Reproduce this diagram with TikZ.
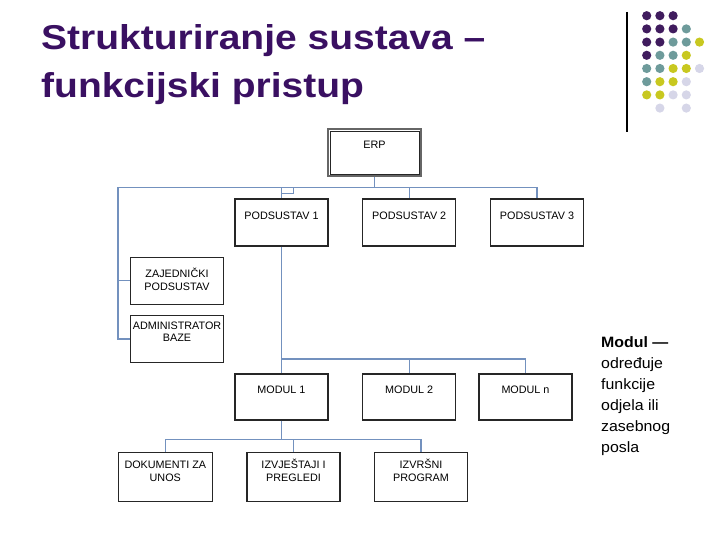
\documentclass[tikz,border=0pt]{standalone}
\usepackage{fontspec}
\setmainfont{Liberation Sans}
\newfontfamily\ttlfont[FakeStretch=1.13]{Liberation Sans}
\newfontfamily\bodyfont[FakeStretch=1.06]{Liberation Sans}
\newfontfamily\diafont{Liberation Sans}
\definecolor{ttlpurple}{RGB}{58,16,98}
\definecolor{dpurple}{RGB}{64,28,94}
\definecolor{dteal}{RGB}{110,155,155}
\definecolor{dyellow}{RGB}{200,200,32}
\definecolor{dlav}{RGB}{214,214,232}
\definecolor{connblue}{RGB}{115,145,190}
\begin{document}
\begin{tikzpicture}[x=1pt,y=-1pt,
  box/.style={draw=black!85, line width=1.1pt, minimum width=93pt, minimum height=47pt, inner sep=0pt},
  btxt/.style={font=\diafont\fontsize{10.8}{12.6}\selectfont, inner sep=0pt, align=center, anchor=base},
  conn/.style={draw=connblue, line width=1.3pt},
  ttl/.style={font=\ttlfont\bfseries\fontsize{34.5}{40}\selectfont, text=ttlpurple, inner sep=0pt, anchor=base west},
  bodytxt/.style={font=\bodyfont\fontsize{15}{21}\selectfont, inner sep=0pt, anchor=base west}
]
\useasboundingbox (0,0) rectangle (720,540);

% title
\node[ttl] (t1) at (41,50) {Strukturiranje sustava –};
\node[ttl] (t2) at (41,97.3) {funkcijski pristup};

% decoration
\draw[black, line width=1.2pt] (627,12) -- (627,132);
\foreach \c/\r/\col in {0/0/dpurple,1/0/dpurple,2/0/dpurple,
  0/1/dpurple,1/1/dpurple,2/1/dpurple,3/1/dteal,
  0/2/dpurple,1/2/dpurple,2/2/dteal,3/2/dteal,4/2/dyellow,
  0/3/dpurple,1/3/dteal,2/3/dteal,3/3/dyellow,
  0/4/dteal,1/4/dteal,2/4/dyellow,3/4/dyellow,4/4/dlav,
  0/5/dteal,1/5/dyellow,2/5/dyellow,3/5/dlav,
  0/6/dyellow,1/6/dyellow,2/6/dlav,3/6/dlav,
  1/7/dlav,3/7/dlav}
  \fill[\col] (646.7+13.2*\c, 15.7+13.2*\r) circle (4.6pt);

% ERP
\node[box, draw=black!60, line width=2pt] (erp) at (374.5,153) {};
\draw[black!85, line width=0.8pt] ([xshift=3pt,yshift=-3pt]erp.north west) rectangle ([xshift=-3pt,yshift=3pt]erp.south east);
\node[btxt] (erpt) at ([yshift=-20.5pt]erp.north) {ERP};

% subsystems
\node[box] (p1) at (281.5,222.5) {};
\node[box] (p2) at (409.2,222.5) {};
\node[box, minimum width=92.6pt] (p3) at (537,222.5) {};
\node[btxt] (p1t) at ([yshift=-21pt]p1.north) {PODSUSTAV 1};
\node[btxt] (p2t) at ([yshift=-21pt]p2.north) {PODSUSTAV 2};
\node[btxt] (p3t) at ([yshift=-21pt]p3.north) {PODSUSTAV 3};

\node[box, minimum width=92.6pt, minimum height=46.7pt] (zaj) at (177,280.7) {};
\node[box, minimum width=92.6pt, minimum height=46.7pt] (adm) at (177,339) {};
\node[btxt] (zajt) at ([yshift=-33.4pt]zaj.north) {ZAJEDNIČKI\\PODSUSTAV};
\node[btxt] (admt) at ([yshift=-26.6pt]adm.north) {ADMINISTRATOR\\BAZE};

% modules
\node[box, minimum height=46pt] (m1) at (281.5,397) {};
\node[box, minimum height=46pt] (m2) at (409.2,397) {};
\node[box, minimum height=46pt] (mn) at (525.5,397) {};
\node[btxt] (m1t) at ([yshift=-20pt]m1.north) {MODUL 1};
\node[btxt] (m2t) at ([yshift=-20pt]m2.north) {MODUL 2};
\node[btxt] (mnt) at ([yshift=-20pt]mn.north) {MODUL n};

% bottom
\node[box, minimum width=94pt, minimum height=49.4pt] (b1) at (165.3,477) {};
\node[box, minimum height=49.4pt] (b2) at (293.5,477) {};
\node[box, minimum height=49.4pt] (b3) at (421,477) {};
\node[btxt] (b1t) at ([yshift=-29.4pt]b1.north) {DOKUMENTI ZA\\UNOS};
\node[btxt] (b2t) at ([yshift=-29.4pt]b2.north) {IZVJEŠTAJI I\\PREGLEDI};
\node[btxt] (b3t) at ([yshift=-29.4pt]b3.north) {IZVRŠNI\\PROGRAM};

% connectors
\coordinate (bus) at (374.5,187.3);
\coordinate (busL) at (118,187.3);
\coordinate (p1bus) at (p1.north |- bus);
\coordinate (p1kink) at (293.3,193.3);
\draw[conn] (erp.south) -- (erp.south |- bus);
\draw[conn] (busL) -- (p3.north |- bus);
\draw[conn] (p1bus) -- (p1.north);
\draw[conn] (p1.north |- p1kink) -- (p1kink) -- (p1kink |- bus);
\draw[conn] (p2.north |- bus) -- (p2.north);
\draw[conn] (p3.north |- bus) -- (p3.north);
\draw[conn] (busL) |- (adm.west);
\draw[conn] (busL |- zaj.west) -- (zaj.west);

\coordinate (mbus) at (281.5,359);
\draw[conn] (p1.south) -- (m1.north);
\draw[conn] (p1.south |- mbus) -- (mn.north |- mbus);
\draw[conn] (m2.north |- mbus) -- (m2.north);
\draw[conn] (mn.north |- mbus) -- (mn.north);

\coordinate (bbus) at (281.5,439.3);
\draw[conn] (m1.south) -- (m1.south |- bbus);
\draw[conn] (b1.north |- bbus) -- (b3.north |- bbus);
\draw[conn] (b1.north |- bbus) -- (b1.north);
\draw[conn] (b2.north |- bbus) -- (b2.north);
\draw[conn] (b3.north |- bbus) -- (b3.north);

% side text
\node[bodytxt] (s1) at (601,347.3) {\bfseries Modul —};
\node[bodytxt] (s2) at (601,368.3) {određuje};
\node[bodytxt] (s3) at (601,389.3) {funkcije};
\node[bodytxt] (s4) at (601,410.3) {odjela ili};
\node[bodytxt] (s5) at (601,431.3) {zasebnog};
\node[bodytxt] (s6) at (601,452.3) {posla};
\end{tikzpicture}
\end{document}
